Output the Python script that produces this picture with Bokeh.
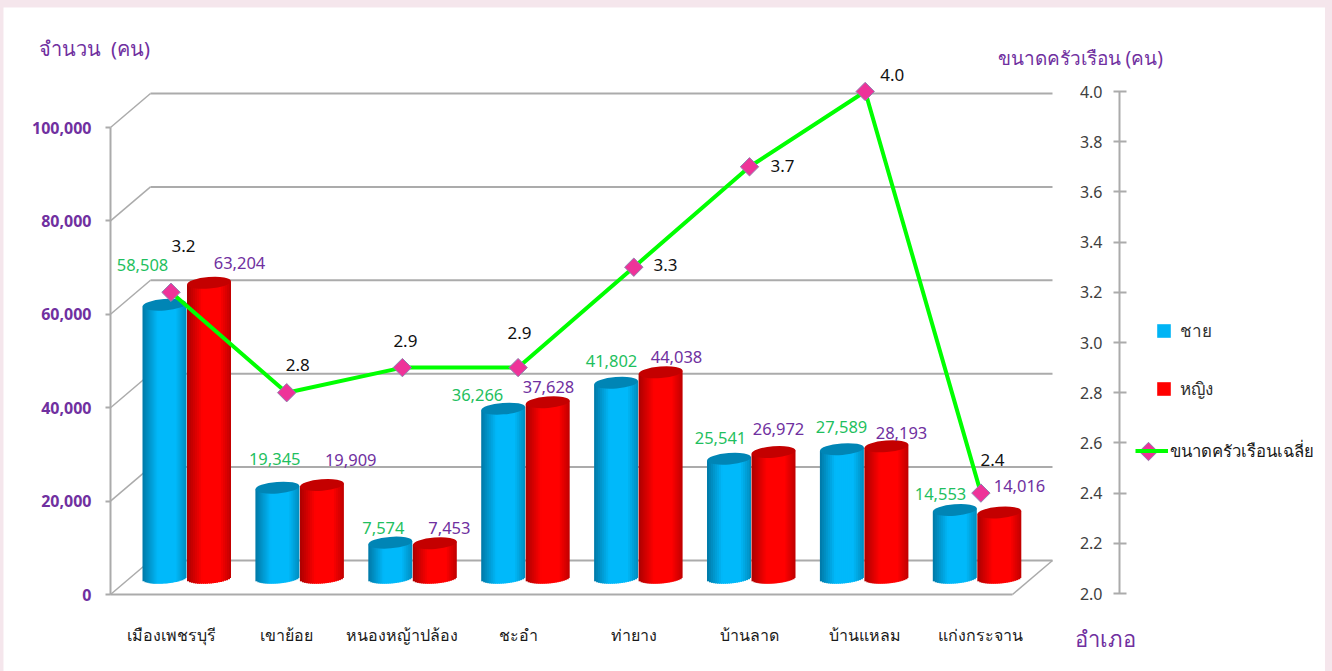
from math import sqrt, atan, pi
from bokeh.plotting import figure
from bokeh.embed import file_html
from bokeh.resources import INLINE
from bokeh.core.properties import value
from bokeh.models import (ColumnDataSource, LabelSet, Legend, LegendItem, LinearAxis, Range1d,
                          FixedTicker, NumeralTickFormatter)

districts = ["เมืองเพชรบุรี", "เขาย้อย", "หนองหญ้าปล้อง", "ชะอำ", "ท่ายาง", "บ้านลาด", "บ้านแหลม", "แก่งกระจาน"]
male = [58508, 19345, 7574, 36266, 41802, 25541, 27589, 14553]
female = [63204, 19909, 7453, 37628, 44038, 26972, 28193, 14016]
household = [3.2, 2.8, 2.9, 2.9, 3.3, 3.7, 4.0, 2.4]
left_ticks = [0, 20000, 40000, 60000, 80000, 100000]
right_ticks = [2.0, 2.2, 2.4, 2.6, 2.8, 3.0, 3.2, 3.4, 3.6, 3.8, 4.0]

# label placement offsets in screen px from the anchoring value (dx right, dy up)
male_dx = [-28.5, -12, -19, -40.6, -22.3, -29, -23.7, -40.4]
male_dy = [55.8, 44.7, 31.6, 30.6, 37.8, 37.7, 38.2, 33]
female_dx = [68.5, 64, 47, 30.4, 42.7, 29, 36.3, 38.6]
female_dy = [36.8, 42, 31.2, 31.3, 32.3, 40, 30.3, 43.5]
house_dx = [12.5, 11, 3, 1.4, 31.7, 33, 27, 11.6]
house_dy = [46, 28, 27, 35, 2, 1, 17, 33]

FONT = "Noto Sans"
PURPLE = "#7030A0"
GREEN_TXT = "#1FBF60"
GRAY = "#ABABAB"

# geometry (px in the picture)
PL, PT, PR, PB = 3, 7, 1325, 671         # white panel = figure
AX_L, AX_R, AX_B, FLOOR_R = 110, 1119, 594, 1012
CAT0, CATW = 170.5, 115.7                # first category centre, category pitch
BAR_PITCH = 112.9                        # the cylinders sit on a slightly tighter pitch
PX_PER_UNIT = 467 / 100000               # left axis scale
R_PX, R_2 = 251, 593                     # right axis px per unit, px of value 2.0


def X(px):
    return (px - CAT0) / CATW


def Y(py):
    return (AX_B - py) / PX_PER_UNIT


def RY(py):
    return 2.0 + (R_2 - py) / R_PX


def xd(px):
    return px / CATW


def yd(px):
    return px / PX_PER_UNIT


p = figure(width=PR - PL, height=PB - PT, output_backend="svg", toolbar_location=None,
           x_range=Range1d(X(PL), X(PR)), y_range=Range1d(Y(PB), Y(PT)),
           min_border=0, margin=(PT, 0, 0, PL),
           background_fill_color="white", border_fill_color="white", outline_line_color=None,
           x_axis_location=None, y_axis_location=None)
p.grid.visible = False
p.extra_y_ranges = {"size": Range1d(RY(PB), RY(PT))}

# axes
la = LinearAxis(ticker=FixedTicker(ticks=left_ticks), formatter=NumeralTickFormatter(format="0,0"),
                bounds=(0, 100000), fixed_location=X(AX_L), axis_line_color=GRAY, axis_line_width=2,
                major_tick_line_color=GRAY, major_tick_line_width=2, major_tick_in=0, major_tick_out=5,
                minor_tick_line_color=None, major_label_standoff=14,
                major_label_text_color=PURPLE, major_label_text_font=FONT,
                major_label_text_font_size="16px", major_label_text_font_style="bold")
p.add_layout(la, "left")

ra = LinearAxis(y_range_name="size", ticker=FixedTicker(ticks=right_ticks),
                formatter=NumeralTickFormatter(format="0.0"), bounds=(2.0, 4.0), fixed_location=X(AX_R),
                axis_line_color=GRAY, axis_line_width=2,
                major_tick_line_color=GRAY, major_tick_line_width=2, major_tick_in=7, major_tick_out=6,
                minor_tick_line_color=None, major_label_standoff=11,
                major_label_text_color="#404040", major_label_text_font=FONT,
                major_label_text_font_size="16px")
p.add_layout(ra, "left")

xa = LinearAxis(ticker=FixedTicker(ticks=list(range(len(districts)))),
                major_label_overrides={i: d for i, d in enumerate(districts)},
                bounds=(X(AX_L), X(FLOOR_R)), fixed_location=0, axis_line_color=GRAY, axis_line_width=2,
                major_tick_line_color=None, minor_tick_line_color=None, major_label_standoff=23,
                major_label_text_color="#1a1a1a", major_label_text_font=FONT,
                major_label_text_font_size="16px")
p.add_layout(xa, "below")

# 3-D wall lines
DEPTH_X, DEPTH_Y = xd(40), yd(34)
n = len(left_ticks)
p.segment(x0=[X(AX_L) + DEPTH_X] * n, x1=[X(FLOOR_R) + DEPTH_X] * n,
          y0=[v + DEPTH_Y for v in left_ticks], y1=[v + DEPTH_Y for v in left_ticks],
          line_color=GRAY, line_width=2)
p.segment(x0=[X(AX_L)] * n, x1=[X(AX_L) + DEPTH_X] * n,
          y0=left_ticks, y1=[v + DEPTH_Y for v in left_ticks], line_color=GRAY, line_width=1.5)
p.segment(x0=[X(FLOOR_R)], x1=[X(FLOOR_R) + DEPTH_X], y0=[0], y1=[DEPTH_Y],
          line_color=GRAY, line_width=1.5)


def mix(a, b, t):
    return "#%02x%02x%02x" % tuple(round(a[i] + (b[i] - a[i]) * t) for i in range(3))


def shade(t, dark_l, bright, dark_r):
    if t < 0.35:
        return mix(dark_l, bright, t / 0.35)
    if t < 0.75:
        return bright
    return mix(bright, dark_r, (t - 0.75) / 0.25)


BASE = yd(AX_B - 577.5)
A, B, TILT, N = 22.0, 5.5, 0.08, 22


def cylinders(values, off_px, dark_l, bright, dark_r, cap):
    L, R, T, Bt, C = [], [], [], [], []
    for i, v in enumerate(values):
        cx = i * BAR_PITCH / CATW + xd(off_px)
        for j in range(N):
            d0 = -A + 2 * A * j / N
            d1 = -A + 2 * A * (j + 1) / N
            dm = (d0 + d1) / 2
            L.append(cx + xd(d0))
            R.append(cx + xd(d1 + 1.0 if j < N - 1 else d1))
            T.append(v + BASE + yd(TILT * dm))
            Bt.append(BASE + yd(TILT * dm - B * sqrt(max(0.0, 1 - (dm / A) ** 2))))
            C.append(shade((j + 0.5) / N, dark_l, bright, dark_r))
    p.quad(left=L, right=R, top=T, bottom=Bt, fill_color=C, line_color=None)
    p.ellipse(x=[i * BAR_PITCH / CATW + xd(off_px) for i in range(len(values))],
              y=[v + BASE for v in values],
              width=2 * A, height=2 * B + 0.5, width_units="screen", height_units="screen",
              angle=atan(TILT), fill_color=cap, line_color=None)


cylinders(male, -6.5, (0, 120, 165), (0, 185, 250), (0, 140, 190), "#0085B5")
cylinders(female, 38, (170, 0, 0), (255, 0, 0), (190, 0, 0), "#C40000")

# household line
xs = list(range(len(districts)))
MARK = dict(marker="square", angle=pi / 4, size=13, fill_color="#EE3399", line_color="#9080B0", line_width=1)
ln = p.line(xs, household, y_range_name="size", line_color="#00FF00", line_width=4)
p.scatter(xs, household, y_range_name="size", **MARK)

# data labels
for vals, dx, dy, col, fmt, yr, fs in [
    (male, male_dx, male_dy, GREEN_TXT, "{:,}", "default", "16.5px"),
    (female, female_dx, female_dy, PURPLE, "{:,}", "default", "16.5px"),
    (household, house_dx, house_dy, "#111111", "{:.1f}", "size", "17px"),
]:
    src = ColumnDataSource(dict(x=xs, y=vals, t=[fmt.format(v) for v in vals], dx=dx, dy=dy))
    p.add_layout(LabelSet(x="x", y="y", text="t", source=src, x_offset="dx", y_offset="dy",
                          y_range_name=yr, text_align="center", text_baseline="middle",
                          text_color=col, text_font=value(FONT), text_font_size=fs))

# titles
for txt, px, py, size in [("จำนวน\u00a0\u00a0(คน)", 38, 48, "20px"),
                          ("ขนาดครัวเรือน (คน)", 997, 57, "19px"),
                          ("อำเภอ", 1074, 637, "22px")]:
    p.text(x=[X(px)], y=[Y(py)], text=[txt], text_color=PURPLE, text_font=value(FONT),
           text_font_size=size, text_align="left", text_baseline="middle")

# legends
nan = float("nan")
s1 = p.quad(left=[nan], right=[nan], top=[nan], bottom=[nan], fill_color="#00B4F5", line_color=None)
s2 = p.quad(left=[nan], right=[nan], top=[nan], bottom=[nan], fill_color="#FF0000", line_color=None)
leg1 = Legend(items=[LegendItem(label="ชาย", renderers=[s1]), LegendItem(label="หญิง", renderers=[s2])],
              location=(1155 - PL, PB - 402), orientation="vertical", padding=0, margin=0, spacing=31,
              glyph_width=17, glyph_height=17, label_height=17, label_standoff=8,
              background_fill_color=None, border_line_color=None,
              label_text_font=FONT, label_text_font_size="17px", label_text_color="#303030")
leg2 = Legend(items=[LegendItem(label="ขนาดครัวเรือนเฉลี่ย", renderers=[ln])],
              location=(1135 - PL, PB - 464), padding=0, margin=0,
              glyph_width=33, glyph_height=27, label_height=17, label_standoff=2,
              background_fill_color=None, border_line_color=None,
              label_text_font=FONT, label_text_font_size="16.7px", label_text_color="#1a1a1a")
p.add_layout(leg1, "center")
p.add_layout(leg2, "center")
# the legend's own marker cannot be rotated, so the key's diamond sits on the key line
p.scatter([X(1148)], [Y(451)], level="overlay", **MARK)

html = file_html(p, INLINE)
html = html.replace("</head>", "<style>html,body{background:#F5E6EC}</style></head>", 1)
open("out.html", "w").write(html)
